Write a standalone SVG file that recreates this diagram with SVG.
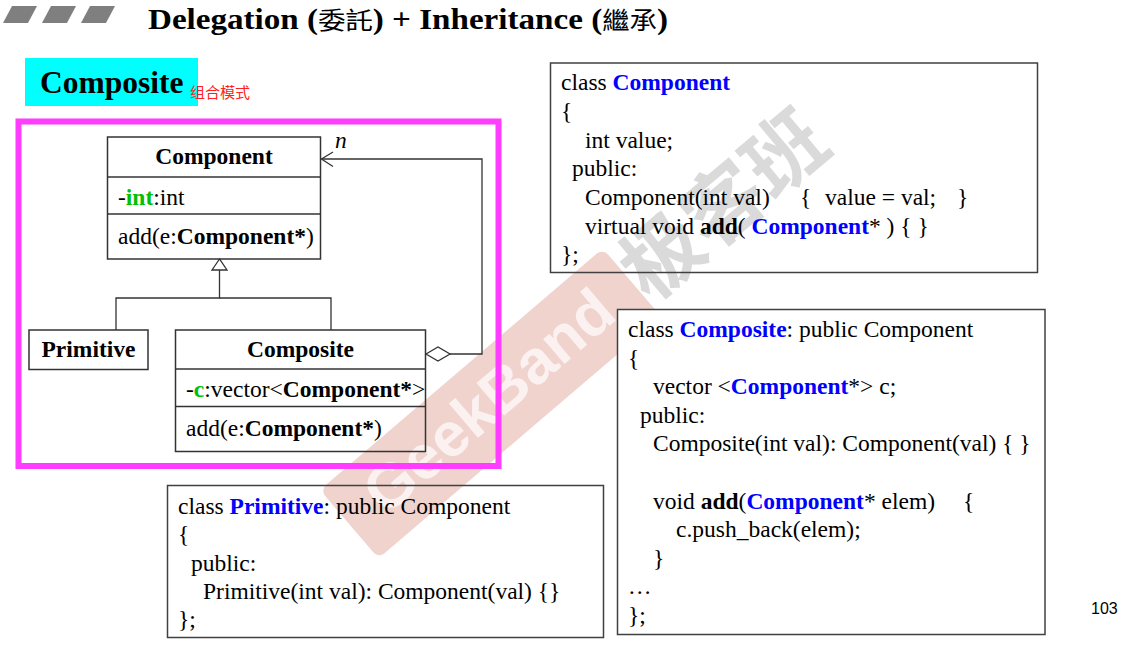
<svg xmlns="http://www.w3.org/2000/svg" width="1144" height="648" viewBox="0 0 1144 648">
<style>
text{font-family:"Liberation Serif","Times New Roman",serif;font-size:23.5px;fill:#000}
.b{font-weight:bold}
.blue{font-weight:bold;fill:#0000ff}
.green{font-weight:bold;fill:#00c000}
.cjk{font-family:"Noto Sans CJK TC","Noto Sans CJK SC",sans-serif}
.tc{font-family:"Noto Sans CJK TC","Noto Sans CJK SC",sans-serif;font-weight:normal;font-size:24px}
.box{fill:none;stroke:#333;stroke-width:1.5}
.code{fill:none;stroke:#404040;stroke-width:1.5}
.ln{fill:none;stroke:#333;stroke-width:1.3}
.mid{text-anchor:middle}
</style>
<rect width="1144" height="648" fill="#fff"/>
<!-- watermark -->
<g id="watermark">
<g transform="translate(320,490) rotate(-40.5)">
<rect x="0" y="0" width="372" height="90" rx="8" fill="#f1d3ce"/>
<text x="186" y="63" text-anchor="middle" style="font-family:'Liberation Sans',Arial,sans-serif;font-weight:bold;font-size:62px;fill:#fbf1f0">GeekBand</text>
</g>
</g>
<!-- title -->
<g id="title">
<polygon points="3,23 12,6 37,6 28,23" fill="#7f7f7f"/>
<polygon points="42,23 51,6 76,6 67,23" fill="#7f7f7f"/>
<polygon points="81,23 90,6 115,6 106,23" fill="#7f7f7f"/>
<text x="148" y="29" class="b" style="font-size:29px" textLength="520" lengthAdjust="spacingAndGlyphs">Delegation (<tspan class="tc">委託</tspan>) + Inheritance (<tspan class="tc">繼承</tspan>)</text>
</g>
<g id="heading">
<rect x="25" y="58" width="173" height="48" fill="#00ffff"/>
<text x="40" y="93" class="b" style="font-size:31.5px">Composite</text>
<text x="190" y="98" class="cjk" style="font-size:15px;fill:#ff2020">组合模式</text>
</g>
<!-- Composite code box (opaque, covers banner end) -->
<g id="code-composite">
<rect x="617.5" y="309.5" width="427.5" height="325" fill="#fff" stroke="#404040" stroke-width="1.5"/>
<text x="628" y="337">class <tspan class="blue">Composite</tspan>: public Component</text>
<text x="628" y="365.5">{</text>
<text x="653" y="394">vector &lt;<tspan class="blue">Component</tspan>*&gt; c;</text>
<text x="640" y="422.5">public:</text>
<text x="653" y="451">Composite(int val): Component(val) { }</text>
<text x="653" y="508.5">void <tspan class="b">add</tspan>(<tspan class="blue">Component</tspan>* elem)</text>
<text x="963" y="508.5">{</text>
<text x="676" y="537">c.push_back(elem);</text>
<text x="653" y="565.5">}</text>
<text x="628" y="594">…</text>
<text x="628" y="622.5">};</text>
</g>
<g id="watermark2">
<text transform="translate(724,205) rotate(-40)" x="0" y="28" text-anchor="middle" class="cjk" style="font-size:80px;font-weight:bold;fill:#dadada">极客班</text>
</g>
<!-- Component code box -->
<g id="code-component">
<rect x="550.5" y="63" width="487" height="209.5" class="code"/>
<text x="561" y="90">class <tspan class="blue">Component</tspan></text>
<text x="561" y="119">{</text>
<text x="585" y="147.5">int value;</text>
<text x="572" y="176">public:</text>
<text x="585" y="205">Component(int val)</text>
<text x="800" y="205">{</text>
<text x="825" y="205">value = val;</text>
<text x="957" y="205">}</text>
<text x="585" y="233.5">virtual void <tspan class="b">add</tspan>( <tspan class="blue">Component</tspan>* ) { }</text>
<text x="561" y="262">};</text>
</g>
<!-- Primitive code box -->
<g id="code-primitive">
<rect x="167.5" y="485.5" width="436" height="152" class="code"/>
<text x="178" y="513.5">class <tspan class="blue">Primitive</tspan>: public Component</text>
<text x="178" y="542">{</text>
<text x="191" y="570.5">public:</text>
<text x="203" y="599">Primitive(int val): Component(val) {}</text>
<text x="178" y="627">};</text>
</g>
<!-- UML frame -->
<rect id="frame" x="18.5" y="121.5" width="480" height="344.5" fill="none" stroke="#ff3cff" stroke-width="6"/>
<!-- connectors -->
<g id="connectors">
<polyline class="ln" points="219.5,270 219.5,298 116,298 116,330"/>
<polyline class="ln" points="219.5,298 331,298 331,330"/>
<polygon points="219.5,259 212,270 227,270" fill="#fff" stroke="#333" stroke-width="1.3"/>
<polyline class="ln" points="450,354 482,354 482,159 321.5,159"/>
<polyline class="ln" points="333,152 321.5,159 333,166.5"/>
<polygon points="426,354 438,347 450,354 438,361" fill="#fff" stroke="#333" stroke-width="1.3"/>
<text x="335" y="148" style="font-style:italic">n</text>
</g>
<g id="uml-component">
<rect x="107.5" y="137" width="213" height="122" class="box"/>
<line x1="107.5" y1="177" x2="320.5" y2="177" class="box"/>
<line x1="107.5" y1="214" x2="320.5" y2="214" class="box"/>
<text x="214" y="164" class="b mid">Component</text>
<text x="118" y="205">-<tspan class="green">int</tspan>:int</text>
<text x="118" y="243.5">add(e:<tspan class="b">Component*</tspan>)</text>
</g>
<g id="uml-primitive">
<rect x="29" y="330" width="119" height="39.5" class="box"/>
<text x="88.5" y="356.5" class="b mid">Primitive</text>
</g>
<g id="uml-composite">
<rect x="175.5" y="330" width="250" height="121.5" class="box"/>
<line x1="175.5" y1="369" x2="425.5" y2="369" class="box"/>
<line x1="175.5" y1="406.5" x2="425.5" y2="406.5" class="box"/>
<text x="300.5" y="356.5" class="b mid">Composite</text>
<text x="186" y="397">-<tspan class="green">c</tspan>:vector&lt;<tspan class="b">Component*</tspan>&gt;</text>
<text x="186" y="436">add(e:<tspan class="b">Component*</tspan>)</text>
</g>
<text x="1091" y="614" style="font-family:'Liberation Sans',Arial,sans-serif;font-size:16px">103</text>
</svg>
